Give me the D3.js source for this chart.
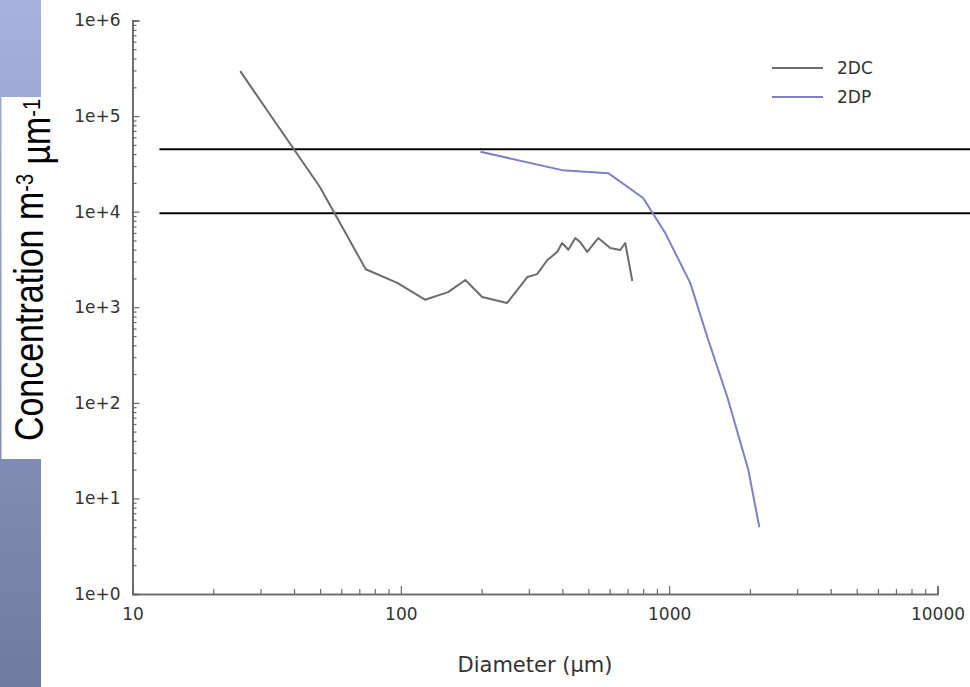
<!DOCTYPE html>
<html>
<head>
<meta charset="utf-8">
<script src="https://cdn.jsdelivr.net/npm/d3@7"></script>
<style>
  html, body { margin: 0; padding: 0; background: #fff; }
  svg { display: block; }
</style>
</head>
<body>
<svg id="chart" width="970" height="687"></svg>
<script>
(() => {
  // 2DC probe (grey)
  const dcDiameter = [25.2, 50, 74, 97, 123, 150, 174, 201, 249, 296, 322, 351, 383, 399, 421, 447, 466, 495, 544, 603, 657, 686, 729];
  const dcConc = [2.95e5, 1.8e4, 2.5e3, 1.8e3, 1.2e3, 1.44e3, 1.93e3, 1.28e3, 1.11e3, 2.07e3, 2.22e3, 3.1e3, 3.8e3, 4.7e3, 4.0e3, 5.3e3, 4.8e3, 3.8e3, 5.3e3, 4.16e3, 3.97e3, 4.7e3, 1.88e3];

  // 2DP probe (blue)
  const dpDiameter = [198, 399, 593, 800, 967, 1199, 1387, 1647, 1973, 2168];
  const dpConc = [4.24e4, 2.72e4, 2.53e4, 1.39e4, 5.97e3, 1.79e3, 488, 115, 19.8, 5.0];

  // two horizontal reference levels
  const refLevels = [4.5e4, 9.6e3];
  const refStart = 12.6;

  const xTicks = [10, 100, 1000, 10000];
  const xTickLabels = ["10", "100", "1000", "10000"];
  const yTicks = [1, 10, 100, 1e3, 1e4, 1e5, 1e6];
  const yTickLabels = ["1e+0", "1e+1", "1e+2", "1e+3", "1e+4", "1e+5", "1e+6"];

  const seriesNames = ["2DC", "2DP"];
  const seriesColors = ["#6c6c6c", "#7f7fc6"];

  const AXIS_COLOR = "#6a6a6a";
  const TEXT_COLOR = "#333333";

  const svg = d3.select("#chart");
  const width = 970;

  // left slide band
  const defs = svg.append("defs");
  const grad = defs.append("linearGradient")
    .attr("id", "band")
    .attr("x1", 0).attr("y1", 0).attr("x2", 0).attr("y2", 1);
  grad.append("stop").attr("offset", "0%").attr("stop-color", "#a5b2de");
  grad.append("stop").attr("offset", "100%").attr("stop-color", "#6d7b9f");

  svg.append("rect")
    .attr("x", 0).attr("y", 0)
    .attr("width", 41).attr("height", 687)
    .attr("fill", "url(#band)");
  svg.append("rect")
    .attr("x", 1.5).attr("y", 97)
    .attr("width", 50).attr("height", 362)
    .attr("fill", "#ffffff");

  const x = d3.scaleLog().domain([10, 10000]).range([132.5, 937.5]);
  const y = d3.scaleLog().domain([1, 1e6]).range([594, 20.5]);

  const minorX = [];
  const minorY = [];
  for (let d = 1; d < 4; d += 1) {
    for (let m = 2; m < 10; m += 1) minorX.push(m * 10 ** d);
  }
  for (let d = 0; d < 6; d += 1) {
    for (let m = 2; m < 10; m += 1) minorY.push(m * 10 ** d);
  }

  // axes
  const gx = svg.append("g").attr("transform", "translate(0,594)");
  gx.call(d3.axisBottom(x).tickValues(minorX).tickSize(-5).tickFormat(""));
  gx.append("g").call(
    d3.axisBottom(x).tickValues(xTicks).tickSize(-8).tickPadding(14)
      .tickFormat((d, i) => xTickLabels[i])
  );

  const gy = svg.append("g").attr("transform", "translate(132.5,0)");
  gy.call(d3.axisLeft(y).tickValues(minorY).tickSize(-4).tickFormat(""));
  gy.append("g").call(
    d3.axisLeft(y).tickValues(yTicks).tickSize(-7).tickPadding(12)
      .tickFormat((d, i) => yTickLabels[i])
  );

  svg.selectAll(".domain")
    .attr("stroke", AXIS_COLOR)
    .attr("stroke-width", 1.6);
  svg.selectAll(".tick line")
    .attr("stroke", AXIS_COLOR)
    .attr("stroke-width", 1.2);
  svg.selectAll(".tick text")
    .attr("fill", TEXT_COLOR)
    .style("font-family", "'DejaVu Sans', sans-serif")
    .style("font-size", "17px");

  // reference lines
  svg.append("g")
    .selectAll("line")
    .data(refLevels)
    .join("line")
    .attr("x1", x(refStart))
    .attr("x2", width)
    .attr("y1", (d) => y(d))
    .attr("y2", (d) => y(d))
    .attr("stroke", "#000")
    .attr("stroke-width", 2);

  // series
  const line = d3.line()
    .x((d) => x(d[0]))
    .y((d) => y(d[1]));

  const series = [
    d3.zip(dcDiameter, dcConc),
    d3.zip(dpDiameter, dpConc),
  ];

  svg.append("g")
    .selectAll("path")
    .data(series)
    .join("path")
    .attr("d", line)
    .attr("fill", "none")
    .attr("stroke", (d, i) => seriesColors[i])
    .attr("stroke-width", 2)
    .attr("stroke-linejoin", "round");

  // legend
  const legend = svg.append("g").attr("transform", "translate(772,68)");
  const item = legend.selectAll("g")
    .data(seriesNames)
    .join("g")
    .attr("transform", (d, i) => `translate(0,${i * 29})`);
  item.append("line")
    .attr("x1", 0).attr("x2", 51)
    .attr("stroke", (d, i) => seriesColors[i])
    .attr("stroke-width", 2);
  item.append("text")
    .attr("x", 65)
    .attr("dy", "0.36em")
    .attr("fill", TEXT_COLOR)
    .style("font-family", "'DejaVu Sans', sans-serif")
    .style("font-size", "17px")
    .text((d) => d);

  // axis titles
  svg.append("text")
    .attr("x", 535)
    .attr("y", 672)
    .attr("text-anchor", "middle")
    .attr("fill", TEXT_COLOR)
    .style("font-family", "'DejaVu Sans', sans-serif")
    .style("font-size", "21px")
    .text("Diameter (μm)");

  const yTitle = svg.append("text")
    .attr("transform", "translate(43,270) scale(1.18,1) rotate(-90)")
    .attr("text-anchor", "middle")
    .attr("fill", "#000")
    .style("font-family", "'Liberation Sans', Arial, sans-serif")
    .style("font-size", "34px");
  yTitle.append("tspan").text("Concentration m");
  yTitle.append("tspan").attr("dy", "-0.42em").style("font-size", "20px").text("-3");
  yTitle.append("tspan").attr("dy", "0.42em").text(" µm");
  yTitle.append("tspan").attr("dy", "-0.42em").style("font-size", "20px").text("-1");
})();
</script>
</body>
</html>
